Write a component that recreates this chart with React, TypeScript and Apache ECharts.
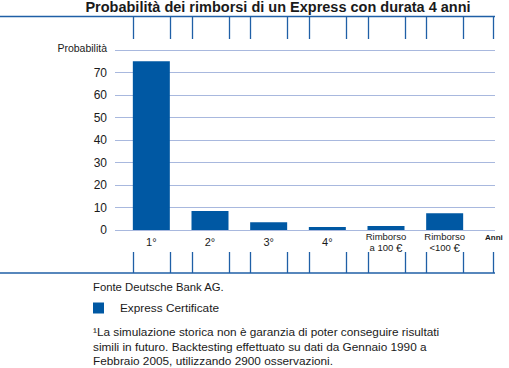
import React, { useEffect, useRef } from "react";
import * as echarts from "echarts";

const categories = ["1°", "2°", "3°", "4°", "Rimborso\na 100 €", "Rimborso\n<100 €"];
const probabilities = [75, 8.4, 3.5, 1.3, 1.8, 7.5];
const yTicks = [0, 10, 20, 30, 40, 50, 60, 70, 80];
const yTopLabel = "Probabilità";
const seriesName = "Express Certificate";
const titleText = "Probabilità dei rimborsi di un Express con durata 4 anni";
const sourceText = "Fonte Deutsche Bank AG.";
const footnoteLines = [
  "¹La simulazione storica non è garanzia di poter conseguire risultati",
  "simili in futuro. Backtesting effettuato su dati da Gennaio 1990 a",
  "Febbraio 2005, utilizzando 2900 osservazioni.",
];
const axisUnit = "Anni";

const FONT = "'Liberation Sans', Arial, Helvetica, sans-serif";
const BAR = "#0058a3";
const LINE = "#1f5fa6";
const GRID = "#a8b8de";
const TEXT = "#1a1a1a";
const BAR_W = 37;

export default function App() {
  const ref = useRef<HTMLDivElement>(null);
  useEffect(() => {
    if (!ref.current) return;
    document.body.style.margin = "0";
    const chart = echarts.init(ref.current, null, { renderer: "svg" });
    const topTickY0 = 17, topTickY1 = 39, botTickY0 = 252, botTickY1 = 273;
    chart.setOption({
      animation: false,
      textStyle: { fontFamily: FONT },
      grid: [
        { left: 115, right: 14, top: 50, bottom: 138 },
        { left: 122, width: 352, top: 50, bottom: 138 },
      ],
      legend: {
        data: [seriesName],
        left: 93,
        top: 302,
        padding: 0,
        itemWidth: 11,
        itemHeight: 11,
        icon: "rect",
        textStyle: { fontSize: 11.8, color: TEXT, fontFamily: FONT, padding: [0, 0, 0, 11] },
      },
      xAxis: [
        { gridIndex: 0, type: "value", min: 0, max: 1, show: false },
        {
          gridIndex: 1,
          type: "category",
          data: categories,
          axisLine: { show: false },
          axisTick: { show: false },
          axisLabel: {
            interval: 0,
            margin: 12,
            verticalAlign: "middle",
            color: TEXT,
            formatter: (v: string) => {
              const lines = v.split("\n");
              if (lines.length === 1) return `{n|${v}}`;
              return lines
                .map((l) => {
                  if (l.includes("€")) {
                    const p = l.split("€");
                    return `{s|${p[0]}}{e|€}`;
                  }
                  return `{s|${l}}`;
                })
                .join("\n");
            },
            rich: {
              n: { fontSize: 11, fontFamily: FONT, color: TEXT, lineHeight: 12 },
              s: { fontSize: 9.5, fontFamily: FONT, color: TEXT, lineHeight: 11 },
              e: { fontSize: 11.5, fontFamily: FONT, color: TEXT, lineHeight: 11 },
            },
          },
        },
      ],
      yAxis: [
        {
          gridIndex: 0,
          type: "value",
          min: 0,
          max: 80,
          interval: 10,
          axisLine: { show: false },
          axisTick: { show: false },
          splitLine: { lineStyle: { color: GRID, width: 1 } },
          axisLabel: {
            margin: 8,
            color: TEXT,
            formatter: (v: number) =>
              v === yTicks[yTicks.length - 1] ? `{p|${yTopLabel}}` : `{d|${v}}`,
            rich: {
              p: { fontSize: 10.5, fontFamily: FONT, color: TEXT, padding: [0, 0, 4, 0] },
              d: { fontSize: 12, fontFamily: FONT, color: TEXT },
            },
          },
        },
        { gridIndex: 1, type: "value", min: 0, max: 80, show: false },
      ],
      series: [
        {
          name: seriesName,
          type: "bar",
          xAxisIndex: 1,
          yAxisIndex: 1,
          data: probabilities,
          barWidth: BAR_W,
          itemStyle: { color: BAR },
        },
        {
          type: "custom",
          xAxisIndex: 1,
          yAxisIndex: 1,
          clip: false,
          silent: true,
          data: categories.map((_, i) => [i, 0]),
          encode: { x: 0, y: 1 },
          renderItem: (params: any, api: any) => {
            const cx = api.coord([api.value(0), 0])[0];
            const xs = [Math.round(cx - BAR_W / 2) + 0.5, Math.round(cx + BAR_W / 2) + 0.5];
            const children: any[] = [];
            xs.forEach((x) => {
              children.push({
                type: "line",
                shape: { x1: x, y1: topTickY0, x2: x, y2: topTickY1 },
                style: { stroke: LINE, lineWidth: 1.3 },
              });
              children.push({
                type: "line",
                shape: { x1: x, y1: botTickY0, x2: x, y2: botTickY1 },
                style: { stroke: LINE, lineWidth: 1.3 },
              });
            });
            return { type: "group", children };
          },
        },
      ],
      graphic: [
        {
          type: "text",
          x: 278,
          y: 7,
          style: {
            text: titleText,
            fontSize: 14.5,
            fontWeight: "bold",
            fontFamily: FONT,
            fill: TEXT,
            align: "center",
            verticalAlign: "middle",
          },
        },
        { type: "line", shape: { x1: 0, y1: 16.5, x2: 495, y2: 16.5 }, style: { stroke: LINE, lineWidth: 1.5 } },
        { type: "line", shape: { x1: 0, y1: 273, x2: 495, y2: 273 }, style: { stroke: LINE, lineWidth: 1.5 } },
        { type: "line", shape: { x1: 493.5, y1: 17, x2: 493.5, y2: 39 }, style: { stroke: LINE, lineWidth: 1.3 } },
        { type: "line", shape: { x1: 493.5, y1: 252, x2: 493.5, y2: 273 }, style: { stroke: LINE, lineWidth: 1.3 } },
        {
          type: "text",
          x: 485,
          y: 237,
          style: { text: axisUnit, fontSize: 8, fontWeight: "bold", fontFamily: FONT, fill: TEXT, verticalAlign: "middle" },
        },
        {
          type: "text",
          x: 93,
          y: 287,
          style: { text: sourceText, fontSize: 11.3, fontFamily: FONT, fill: TEXT, verticalAlign: "middle" },
        },
        ...footnoteLines.map((t, i) => ({
          type: "text",
          x: 93,
          y: 332 + i * 14.5,
          style: { text: t, fontSize: 11.8, fontFamily: FONT, fill: TEXT, verticalAlign: "middle" },
        })),
      ],
    });
    return () => chart.dispose();
  }, []);
  return <div ref={ref} style={{ width: 509, height: 368 }} />;
}
